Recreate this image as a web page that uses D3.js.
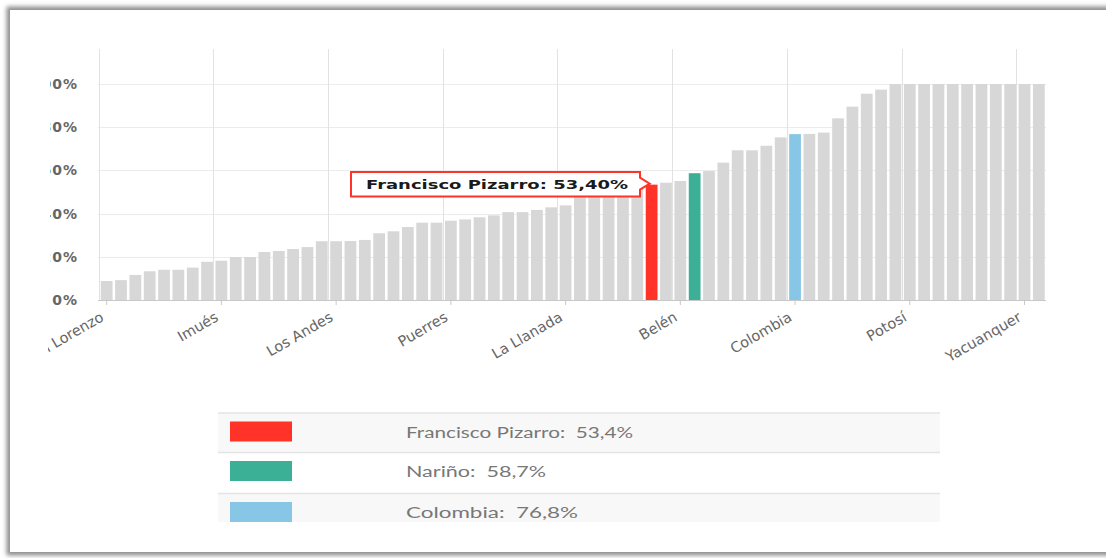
<!DOCTYPE html>
<html>
<head>
<meta charset="utf-8">
<script src="https://cdn.jsdelivr.net/npm/d3@7"></script>
<style>
  html, body { margin: 0; padding: 0; background: #ffffff; }
  svg { display: block; }
</style>
</head>
<body>
<svg id="chart" width="1106" height="558"></svg>
<script>
// ---------- DATA ----------
const categories = [
  "San Lorenzo","El Tablón de Gómez","Albán","Arboleda","Buesaco","San Bernardo","Chachagüí","La Cruz",
  "Imués","El Peñol","Cumbitara","Policarpa","El Rosario","Leiva","Taminango","Consacá",
  "Los Andes","Linares","Ancuya","Samaniego","Santacruz","Mallama","Ricaurte","Providencia",
  "Puerres","Córdoba","Contadero","Funes","Iles","Gualmatán","Ospina","Sapuyes",
  "La Llanada","Guaitarilla","Tangua","Sandoná","La Florida","Colón","Francisco Pizarro","San Pedro de Cartago",
  "Belén","Nariño","Aldana","Cuaspud","Guachucal","Cumbal","Pupiales","Túquerres",
  "Colombia","Ipiales","Pasto","La Unión","San Pablo","Tumaco","Barbacoas","El Tambo",
  "Potosí","Magüí","Roberto Payán","Olaya Herrera","Mosquera","La Tola","El Charco","Santa Bárbara",
  "Yacuanquer","Nariño (mpio.)"
];
const values = [
  8.8, 9.2, 11.6, 13.3, 14.0, 14.0, 15.0, 17.7,
  18.2, 19.9, 19.9, 22.2, 22.7, 23.6, 24.5, 27.2,
  27.2, 27.3, 27.8, 30.9, 31.8, 33.8, 35.8, 35.8,
  36.7, 37.3, 38.3, 39.2, 40.7, 40.7, 41.7, 42.9,
  43.8, 49.5, 50.5, 51.5, 52.3, 53.0, 53.4, 54.3,
  55.1, 58.7, 59.7, 63.6, 69.3, 69.3, 71.4, 75.3,
  76.8, 76.9, 77.5, 84.1, 89.5, 95.5, 97.4, 100,
  100, 100, 100, 100, 100, 100, 100, 100,
  100, 100
];
const yTicks = [0, 20, 40, 60, 80, 100];
const highlightNames = ["Francisco Pizarro", "Nariño", "Colombia"];
const highlightColors = ["#ff3328", "#3cb096", "#88c6e6"];
const legendLabels = ["Francisco Pizarro:  53,4%", "Nariño:  58,7%", "Colombia:  76,8%"];
const tooltipText = "Francisco Pizarro: 53,40%";

// ---------- LAYOUT ----------
const svg = d3.select("#chart");
const W = 1106, H = 558;
const plot = { left: 99.5, right: 1046, top: 49, bottom: 300 };

// frame with shadow
const defs = svg.append("defs");
const f = defs.append("filter").attr("id", "shadow").attr("x", "-5%").attr("y", "-5%").attr("width", "110%").attr("height", "110%");
f.append("feGaussianBlur").attr("stdDeviation", 2.2);
defs.append("clipPath").attr("id", "cut").append("rect")
  .attr("x", 48).attr("y", 0).attr("width", W).attr("height", H);
defs.append("clipPath").attr("id", "ycut").append("rect")
  .attr("x", 50).attr("y", 0).attr("width", W).attr("height", H);
defs.append("clipPath").attr("id", "legcut").append("rect")
  .attr("x", 0).attr("y", 0).attr("width", W).attr("height", 522);

svg.append("rect").attr("x", 0).attr("y", 0).attr("width", W).attr("height", H).attr("fill", "#fff");
svg.append("rect").attr("x", 6.5).attr("y", 6.5).attr("width", 1130).attr("height", 549)
  .attr("fill", "#8f8f8f").attr("filter", "url(#shadow)");
svg.append("rect").attr("x", 10).attr("y", 10).attr("width", 1130).attr("height", 542)
  .attr("fill", "#fff");

const g = svg.append("g").attr("clip-path", "url(#cut)");

// scales
const x = d3.scaleBand()
  .domain(d3.range(categories.length))
  .range([plot.left, plot.right])
  .paddingInner(0.18)
  .paddingOuter(0.09);
const y = d3.scaleLinear().domain([0, 100]).range([plot.bottom, 84]);
const step = x.step();

// horizontal gridlines
g.append("g").selectAll("line").data(yTicks).join("line")
  .attr("x1", 98).attr("x2", plot.right)
  .attr("y1", d => Math.round(y(d)) + 0.5).attr("y2", d => Math.round(y(d)) + 0.5)
  .attr("stroke", "#ececec").attr("stroke-width", 1);

// vertical gridlines at every 8th category boundary
const labelIdx = d3.range(0, categories.length, 8);
g.append("g").selectAll("line").data(labelIdx).join("line")
  .attr("x1", d => Math.round(x(d) - step * 0.09 - 1) + 0.5)
  .attr("x2", d => Math.round(x(d) - step * 0.09 - 1) + 0.5)
  .attr("y1", plot.top).attr("y2", plot.bottom)
  .attr("stroke", "#e2e2e2").attr("stroke-width", 1);

// bars
const colorOf = name => {
  const k = highlightNames.indexOf(name);
  return k >= 0 ? highlightColors[k] : "#d7d7d7";
};
g.append("g").selectAll("rect").data(values).join("rect")
  .attr("x", (d, i) => x(i))
  .attr("width", x.bandwidth())
  .attr("y", d => y(d))
  .attr("height", d => y(0) - y(d))
  .attr("fill", (d, i) => colorOf(categories[i]));

// x axis
const xAxis = d3.axisBottom(x)
  .tickValues(labelIdx)
  .tickSize(5)
  .tickFormat(i => categories[i]);
const xg = g.append("g").attr("transform", `translate(0,${plot.bottom})`).call(xAxis);
xg.select(".domain").attr("stroke", "#c8c8c8").attr("d", `M${98},0.5H${plot.right}`);
xg.selectAll(".tick line").attr("stroke", "#c8c8c8");
xg.selectAll(".tick text")
  .attr("fill", "#666")
  .attr("font-family", "DejaVu Sans, sans-serif")
  .attr("font-size", "14.5px")
  .attr("text-anchor", "end")
  .attr("dy", null)
  .attr("y", null)
  .attr("transform", "translate(-2,20) rotate(-30)");

// y axis
const yAxis = d3.axisLeft(y).tickValues(yTicks).tickSize(0).tickFormat(d => d + "%");
const yg = svg.append("g").attr("clip-path", "url(#ycut)")
  .append("g").attr("transform", `translate(78,0)`).call(yAxis);
yg.select(".domain").remove();
yg.selectAll(".tick text")
  .attr("x", 0)
  .attr("fill", "#666")
  .attr("font-family", "DejaVu Sans, sans-serif")
  .attr("font-weight", "bold")
  .attr("font-size", "14px")
  .attr("letter-spacing", "1px");

// tooltip callout
const ti = categories.indexOf("Francisco Pizarro");
const tipX = x(ti) + 4, tipY = y(values[ti]) - 1;
const bx0 = 351, bx1 = 640, by0 = 172, by1 = 196.5;
const tip = svg.append("g");
tip.append("path")
  .attr("d", `M${bx0},${by0}H${bx1}V${tipY - 6}L${tipX},${tipY}L${bx1},${tipY + 6}V${by1}H${bx0}Z`)
  .attr("fill", "#fff").attr("stroke", "#ff3328").attr("stroke-width", 2);
tip.append("text")
  .attr("x", 366).attr("y", 189)
  .attr("font-family", "DejaVu Sans, sans-serif")
  .attr("font-weight", "bold")
  .attr("font-size", "13px")
  .attr("fill", "#1a1a1a")
  .attr("textLength", 262)
  .attr("lengthAdjust", "spacingAndGlyphs")
  .text(tooltipText);

// legend table
const leg = svg.append("g").attr("clip-path", "url(#legcut)");
const rowTop = [413, 452.5, 493.5];
const rowH = [39.5, 41, 40];
const rowFill = ["#f8f8f8", "#ffffff", "#f8f8f8"];
const textLen = [227, 140, 172];
const rows = leg.selectAll("g.row").data(legendLabels).join("g").attr("class", "row");
rows.append("rect")
  .attr("x", 218).attr("width", 722)
  .attr("y", (d, i) => rowTop[i]).attr("height", (d, i) => rowH[i])
  .attr("fill", (d, i) => rowFill[i]);
rows.append("line")
  .attr("x1", 218).attr("x2", 940)
  .attr("y1", (d, i) => rowTop[i]).attr("y2", (d, i) => rowTop[i])
  .attr("stroke", "#e4e4e4").attr("stroke-width", 1.5);
rows.append("rect")
  .attr("x", 230).attr("width", 62)
  .attr("y", (d, i) => rowTop[i] + 8.5).attr("height", 20)
  .attr("fill", (d, i) => highlightColors[i]);
rows.append("text")
  .attr("x", 406).attr("y", (d, i) => rowTop[i] + 24.5)
  .attr("font-family", "Lato, sans-serif")
  .attr("font-size", "15.5px")
  .attr("fill", "#777")
  .attr("xml:space", "preserve")
  .style("white-space", "pre")
  .attr("textLength", (d, i) => textLen[i])
  .attr("lengthAdjust", "spacingAndGlyphs")
  .text(d => d);
</script>
</body>
</html>
